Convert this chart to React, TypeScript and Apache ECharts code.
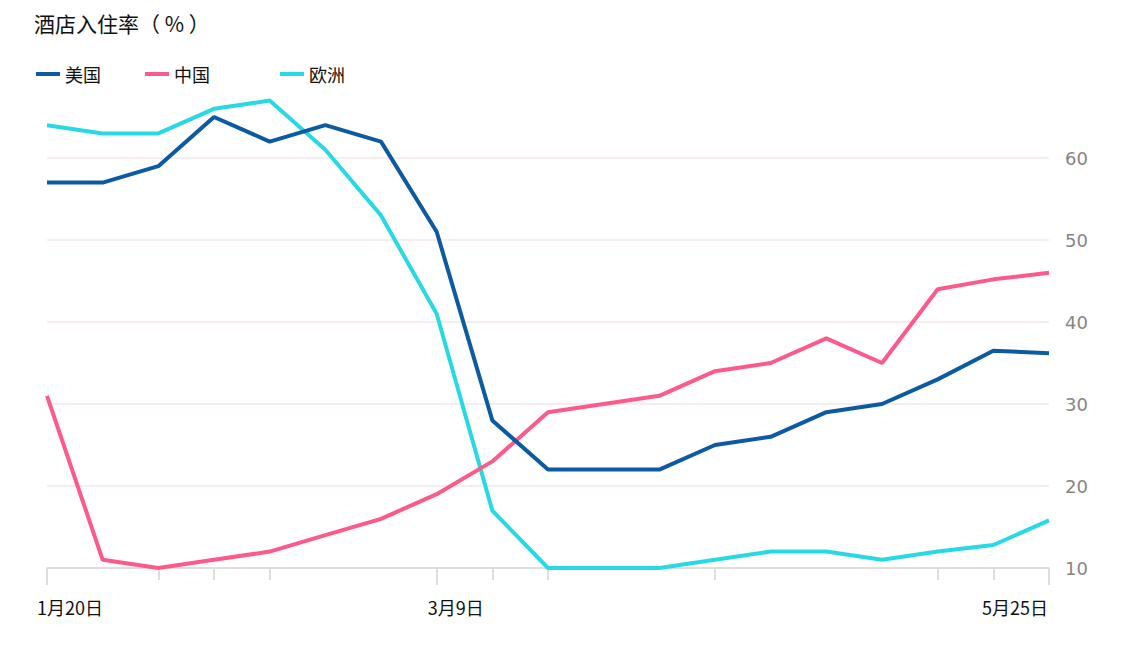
import React, { useEffect, useRef } from "react";
import * as echarts from "echarts";

const categories = [
  "1月20日", "1月27日", "2月3日", "2月10日", "2月17日", "2月24日", "3月2日",
  "3月9日", "3月16日", "3月23日", "3月30日", "4月6日", "4月13日", "4月20日",
  "4月27日", "5月4日", "5月11日", "5月18日", "5月25日",
];
const usValues = [57, 57, 59, 65, 62, 64, 62, 51, 28, 22, 22, 22, 25, 26, 29, 30, 33, 36.5, 36.2];
const chinaValues = [31, 11, 10, 11, 12, 14, 16, 19, 23, 29, 30, 31, 34, 35, 38, 35, 44, 45.2, 46];
const europeValues = [64, 63, 63, 66, 67, 61, 53, 41, 17, 10, 10, 10, 11, 12, 12, 11, 12, 12.8, 15.8];
const seriesNames = ["美国", "中国", "欧洲"];
const labelIndices = [0, 7, 18];
const shortTickIndices = [2, 3, 4, 8, 9, 12, 16, 17];

const COLORS = ["#0b5aa2", "#fd5a8c", "#28d9e4"];
const FONT = "'Noto Sans CJK SC', 'Noto Sans', sans-serif";

export default function App() {
  const ref = useRef<HTMLDivElement>(null);
  useEffect(() => {
    if (!ref.current) return;
    const chart = echarts.init(ref.current, null, { renderer: "svg" });
    const labelPads: Record<number, number[]> = {
      0: [0, 0, 0, 46],
      7: [0, 0, 0, 38],
      18: [0, 68, 0, 0],
    };
    const labelledCats = categories.map((c, i) =>
      labelPads[i] ? { value: c, textStyle: { padding: labelPads[i] } } : c
    );
    const legendLefts = [23, 132, 267];
    chart.setOption({
      animation: false,
      backgroundColor: "#ffffff",
      title: {
        text: "酒店入住率（ % ）",
        left: 26,
        top: 3,
        padding: 0,
        textStyle: { fontFamily: FONT, fontSize: 21, lineHeight: 24, fontWeight: "normal", color: "#111" },
      },
      legend: seriesNames.map((n, i) => ({
        data: [n],
        left: legendLefts[i],
        top: 52,
        icon: "rect",
        itemWidth: 24,
        itemHeight: 4,
        itemGap: 6,
        textStyle: { fontFamily: FONT, fontSize: 18, color: "#111" },
      })),
      grid: { left: 39, right: 70, top: 68, bottom: 69 },
      xAxis: [
        {
          type: "category",
          data: categories,
          boundaryGap: false,
          position: "bottom",
          axisLine: { show: true, lineStyle: { color: "#e2dddd", width: 2 } },
          axisTick: {
            show: true,
            length: 12,
            interval: (i: number) => shortTickIndices.includes(i),
            lineStyle: { color: "#e2dddd", width: 2 },
          },
          axisLabel: { show: false },
        },
        {
          type: "category",
          data: labelledCats,
          boundaryGap: false,
          position: "bottom",
          axisLine: { show: false },
          axisTick: {
            show: true,
            length: 17,
            interval: (i: number) => labelIndices.includes(i),
            lineStyle: { color: "#e2dddd", width: 2 },
          },
          axisLabel: {
            show: true,
            interval: (i: number) => labelIndices.includes(i),
            margin: 30,
            fontFamily: FONT,
            fontSize: 18,
            color: "#111",
          },
        },
      ],
      yAxis: {
        type: "value",
        position: "right",
        min: 10,
        max: 70,
        interval: 10,
        axisLine: { show: false },
        axisTick: { show: false },
        axisLabel: {
          margin: 16,
          fontFamily: "'DejaVu Sans', sans-serif",
          fontSize: 18,
          color: "#858585",
          showMaxLabel: false,
        },
        splitLine: {
          show: true,
          showMaxLine: false,
          showMinLine: false,
          lineStyle: { color: "#f3e8e8", width: 1.5 },
        },
      },
      series: [usValues, chinaValues, europeValues].map((d, i) => ({
        name: seriesNames[i],
        type: "line",
        data: d,
        xAxisIndex: 0,
        symbol: "none",
        color: COLORS[i],
        lineStyle: { width: 4, color: COLORS[i] },
        z: 3 - i,
      })),
    });
    return () => chart.dispose();
  }, []);
  return <div ref={ref} style={{ width: 1111, height: 629 }} />;
}
